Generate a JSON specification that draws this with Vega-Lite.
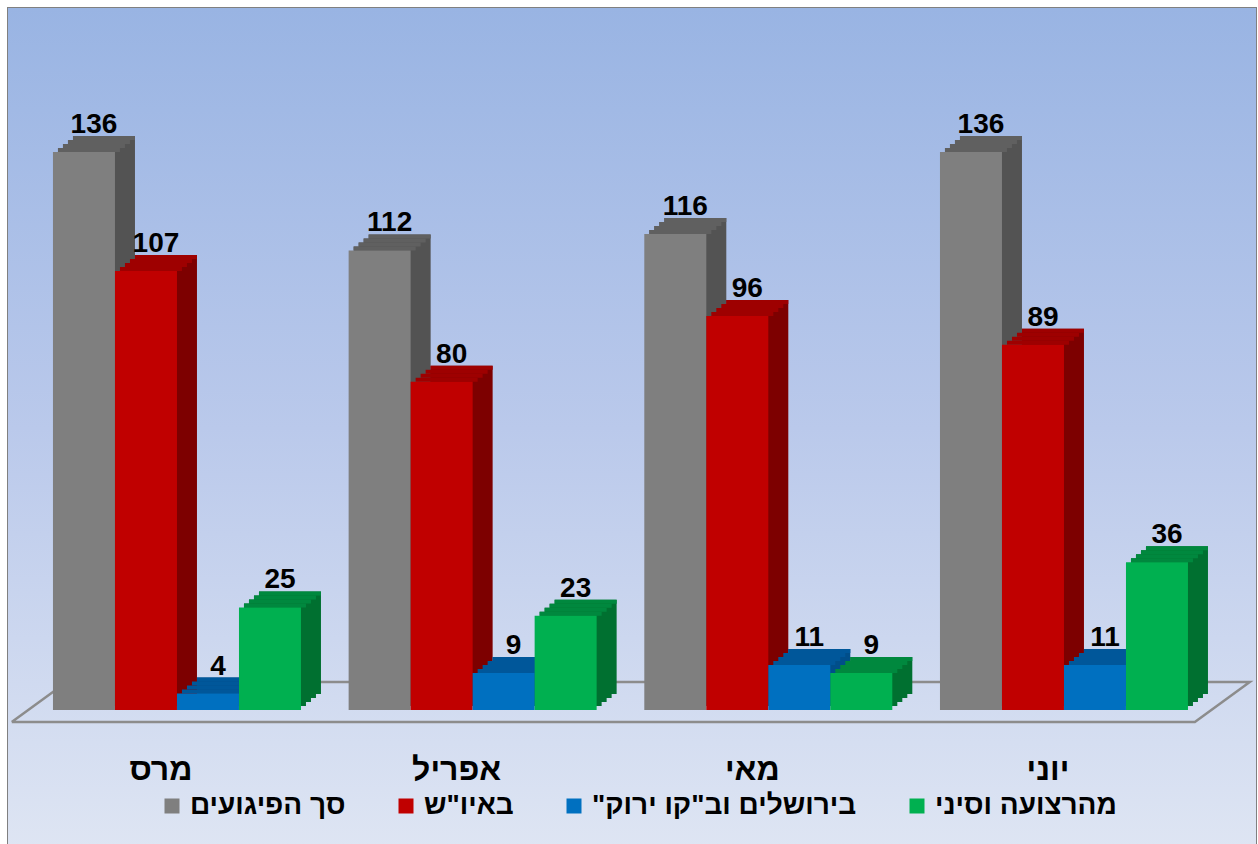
{
  "$schema": "https://vega.github.io/schema/vega-lite/v6.json",
  "width": 1248,
  "height": 840,
  "autosize": {"type": "none"},
  "padding": {"left": 8, "top": 8, "right": 2, "bottom": 0},
  "background": "white",
  "config": {
    "view": {"stroke": "#808080", "strokeWidth": 2},
    "font": "Liberation Sans"
  },
  "data": {
    "values": [
      {"month": "מרס", "series": "סך הפיגועים", "value": 136},
      {"month": "מרס", "series": "באיו\"ש", "value": 107},
      {"month": "מרס", "series": "בירושלים וב\"קו ירוק\"", "value": 4},
      {"month": "מרס", "series": "מהרצועה וסיני", "value": 25},
      {"month": "אפריל", "series": "סך הפיגועים", "value": 112},
      {"month": "אפריל", "series": "באיו\"ש", "value": 80},
      {"month": "אפריל", "series": "בירושלים וב\"קו ירוק\"", "value": 9},
      {"month": "אפריל", "series": "מהרצועה וסיני", "value": 23},
      {"month": "מאי", "series": "סך הפיגועים", "value": 116},
      {"month": "מאי", "series": "באיו\"ש", "value": 96},
      {"month": "מאי", "series": "בירושלים וב\"קו ירוק\"", "value": 11},
      {"month": "מאי", "series": "מהרצועה וסיני", "value": 9},
      {"month": "יוני", "series": "סך הפיגועים", "value": 136},
      {"month": "יוני", "series": "באיו\"ש", "value": 89},
      {"month": "יוני", "series": "בירושלים וב\"קו ירוק\"", "value": 11},
      {"month": "יוני", "series": "מהרצועה וסיני", "value": 36}
    ]
  },
  "layer": [
    {
      "data": {"values": [{}]},
      "mark": {
        "type": "rect",
        "fill": {"gradient": "linear", "x1": 0, "y1": 0, "x2": 0, "y2": 1,
          "stops": [{"offset": 0, "color": "#99b4e3"}, {"offset": 0.5, "color": "#bac9eb"}, {"offset": 1, "color": "#dee5f3"}]}
      },
      "encoding": {
        "x": {"value": 0}, "x2": {"value": "width"},
        "y": {"value": 0}, "y2": {"value": "height"}
      }
    },
    {
      "data": {"values": [
        {"o": 1, "fx": 0.003, "fy": -2.9},
        {"o": 2, "fx": 0.951, "fy": -2.9},
        {"o": 3, "fx": 0.995, "fy": 6.85},
        {"o": 4, "fx": 0.047, "fy": 6.85},
        {"o": 5, "fx": 0.003, "fy": -2.9}
      ]},
      "mark": {"type": "line", "stroke": "#8c8c8c", "strokeWidth": 2.5},
      "encoding": {
        "x": {"field": "fx", "type": "quantitative", "scale": {"domain": [0, 1], "nice": false, "zero": false}, "axis": null},
        "y": {"field": "fy", "type": "quantitative", "scale": {"domain": [-33.63, 171.09], "nice": false, "zero": false}, "axis": null},
        "order": {"field": "o"}
      }
    },
    {
      "encoding": {
        "x": {"field": "month", "type": "nominal", "sort": ["מרס", "אפריל", "מאי", "יוני"],
          "scale": {"paddingInner": 0.1612, "paddingOuter": 0.1911, "align": 0.398}, "axis": null},
        "y": {"field": "value", "type": "quantitative", "scale": {"domain": [-33.63, 171.09], "nice": false, "zero": false}, "axis": null}
      },
      "layer": [
        {"mark": {"type": "bar", "yOffset": -4, "y2Offset": -4},
         "encoding": {"xOffset": {"field": "series", "sort": ["סך הפיגועים", "באיו\"ש", "בירושלים וב\"קו ירוק\"", "מהרצועה וסיני"], "scale": {"range": [5, 253], "paddingInner": 0, "paddingOuter": 0}},
           "y2": {"datum": 0},
           "color": {"field": "series", "sort": ["סך הפיגועים", "באיו\"ש", "בירושלים וב\"קו ירוק\"", "מהרצועה וסיני"], "scale": {"range": ["#535353", "#7d0000", "#004e8a", "#007030"]}, "legend": null}}},
        {"mark": {"type": "bar", "yOffset": -8, "y2Offset": -8},
         "encoding": {"xOffset": {"field": "series", "sort": ["סך הפיגועים", "באיו\"ש", "בירושלים וב\"קו ירוק\"", "מהרצועה וסיני"], "scale": {"range": [10, 258], "paddingInner": 0, "paddingOuter": 0}},
           "y2": {"datum": 0},
           "color": {"field": "series", "sort": ["סך הפיגועים", "באיו\"ש", "בירושלים וב\"קו ירוק\"", "מהרצועה וסיני"], "scale": {"range": ["#535353", "#7d0000", "#004e8a", "#007030"]}, "legend": null}}},
        {"mark": {"type": "bar", "yOffset": -12, "y2Offset": -12},
         "encoding": {"xOffset": {"field": "series", "sort": ["סך הפיגועים", "באיו\"ש", "בירושלים וב\"קו ירוק\"", "מהרצועה וסיני"], "scale": {"range": [15, 263], "paddingInner": 0, "paddingOuter": 0}},
           "y2": {"datum": 0},
           "color": {"field": "series", "sort": ["סך הפיגועים", "באיו\"ש", "בירושלים וב\"קו ירוק\"", "מהרצועה וסיני"], "scale": {"range": ["#535353", "#7d0000", "#004e8a", "#007030"]}, "legend": null}}},
        {"mark": {"type": "bar", "yOffset": -16, "y2Offset": -16},
         "encoding": {"xOffset": {"field": "series", "sort": ["סך הפיגועים", "באיו\"ש", "בירושלים וב\"קו ירוק\"", "מהרצועה וסיני"], "scale": {"range": [20, 268], "paddingInner": 0, "paddingOuter": 0}},
           "y2": {"datum": 0},
           "color": {"field": "series", "sort": ["סך הפיגועים", "באיו\"ש", "בירושלים וב\"קו ירוק\"", "מהרצועה וסיני"], "scale": {"range": ["#535353", "#7d0000", "#004e8a", "#007030"]}, "legend": null}}},
        {"mark": {"type": "bar", "yOffset": -4, "y2Offset": 0},
         "encoding": {"xOffset": {"field": "series", "sort": ["סך הפיגועים", "באיו\"ש", "בירושלים וב\"קו ירוק\"", "מהרצועה וסיני"], "scale": {"range": [5, 253], "paddingInner": 0, "paddingOuter": 0}},
           "y2": {"field": "value"},
           "color": {"field": "series", "sort": ["סך הפיגועים", "באיו\"ש", "בירושלים וב\"קו ירוק\"", "מהרצועה וסיני"], "scale": {"range": ["#606060", "#9e0000", "#00579a", "#00883e"]}, "legend": null}}},
        {"mark": {"type": "bar", "yOffset": -8, "y2Offset": -4},
         "encoding": {"xOffset": {"field": "series", "sort": ["סך הפיגועים", "באיו\"ש", "בירושלים וב\"קו ירוק\"", "מהרצועה וסיני"], "scale": {"range": [10, 258], "paddingInner": 0, "paddingOuter": 0}},
           "y2": {"field": "value"},
           "color": {"field": "series", "sort": ["סך הפיגועים", "באיו\"ש", "בירושלים וב\"קו ירוק\"", "מהרצועה וסיני"], "scale": {"range": ["#606060", "#9e0000", "#00579a", "#00883e"]}, "legend": null}}},
        {"mark": {"type": "bar", "yOffset": -12, "y2Offset": -8},
         "encoding": {"xOffset": {"field": "series", "sort": ["סך הפיגועים", "באיו\"ש", "בירושלים וב\"קו ירוק\"", "מהרצועה וסיני"], "scale": {"range": [15, 263], "paddingInner": 0, "paddingOuter": 0}},
           "y2": {"field": "value"},
           "color": {"field": "series", "sort": ["סך הפיגועים", "באיו\"ש", "בירושלים וב\"קו ירוק\"", "מהרצועה וסיני"], "scale": {"range": ["#606060", "#9e0000", "#00579a", "#00883e"]}, "legend": null}}},
        {"mark": {"type": "bar", "yOffset": -16, "y2Offset": -12},
         "encoding": {"xOffset": {"field": "series", "sort": ["סך הפיגועים", "באיו\"ש", "בירושלים וב\"קו ירוק\"", "מהרצועה וסיני"], "scale": {"range": [20, 268], "paddingInner": 0, "paddingOuter": 0}},
           "y2": {"field": "value"},
           "color": {"field": "series", "sort": ["סך הפיגועים", "באיו\"ש", "בירושלים וב\"קו ירוק\"", "מהרצועה וסיני"], "scale": {"range": ["#606060", "#9e0000", "#00579a", "#00883e"]}, "legend": null}}},
        {"mark": {"type": "bar"},
         "encoding": {"xOffset": {"field": "series", "sort": ["סך הפיגועים", "באיו\"ש", "בירושלים וב\"קו ירוק\"", "מהרצועה וסיני"], "scale": {"paddingInner": 0, "paddingOuter": 0}},
           "y2": {"datum": 0},
           "color": {"field": "series", "sort": ["סך הפיגועים", "באיו\"ש", "בירושלים וב\"קו ירוק\"", "מהרצועה וסיני"],
             "scale": {"domain": ["סך הפיגועים", "באיו\"ש", "בירושלים וב\"קו ירוק\"", "מהרצועה וסיני"], "range": ["#7f7f7f", "#c00000", "#0070c0", "#00b050"]},
             "legend": {"title": null, "orient": "none", "legendX": 150, "legendY": 784, "direction": "horizontal",
               "symbolType": "square", "symbolSize": 225, "symbolStrokeWidth": 0, "symbolOpacity": 1,
               "labelFontSize": 28, "labelFont": "Liberation Sans", "labelFontWeight": "bold", "labelColor": "black",
               "labelOffset": 4, "columnPadding": 46, "labelLimit": 600,
               "labelExpr": "datum.label + '\u200f'"}}}},
        {"mark": {"type": "text", "fontSize": 28, "fontWeight": "bold", "font": "Liberation Sans", "color": "black", "dy": -19, "baseline": "alphabetic"},
         "encoding": {"xOffset": {"field": "series", "sort": ["סך הפיגועים", "באיו\"ש", "בירושלים וב\"קו ירוק\"", "מהרצועה וסיני"], "scale": {"type": "point", "range": [41, 227], "padding": 0}},
           "text": {"field": "value", "type": "quantitative"}}},
        {"transform": [{"filter": "datum.series == 'סך הפיגועים'"}],
         "mark": {"type": "text", "fontSize": 32, "fontWeight": "bold", "font": "Liberation Sans", "color": "black", "dx": -16, "baseline": "middle"},
         "encoding": {"y": {"datum": -14.5, "type": "quantitative"}, "text": {"field": "month"}}}
      ],
      "resolve": {"scale": {"xOffset": "independent", "color": "independent"}}
    }
  ],
  "resolve": {"scale": {"x": "independent"}}
}
